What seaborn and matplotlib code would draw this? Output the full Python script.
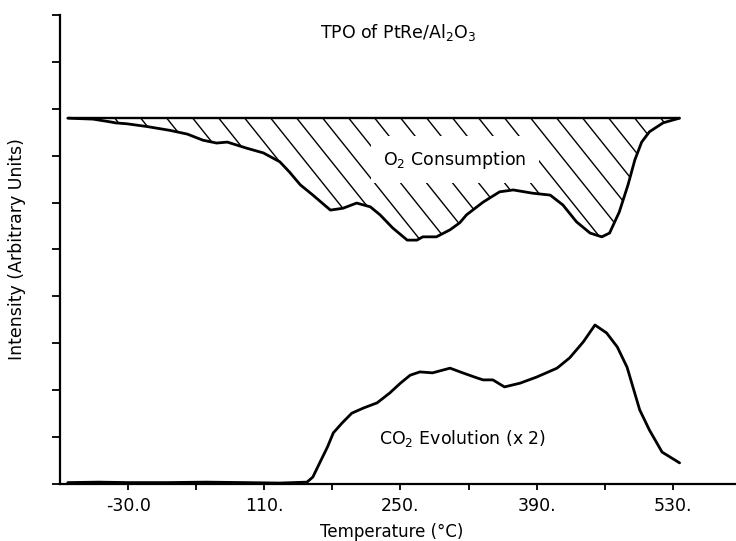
import numpy as np
import pandas as pd
import matplotlib
matplotlib.use("Agg")
import matplotlib.pyplot as plt
import seaborn as sns
from matplotlib.ticker import FixedLocator, FixedFormatter

# ---------------- data ----------------
o2_temp = [-92, -66, -48, -43, -31, -10, 13, 31, 47, 61, 72, 92, 109, 126, 136,
           147, 160, 178, 191, 205, 219, 229, 242, 257, 267, 273, 287, 301, 311,
           318, 335, 352, 366, 386, 404, 417, 431, 445, 457, 465, 475, 484, 491,
           498, 506, 520, 530, 537]
o2_signal = [7.80, 7.78, 7.72, 7.70, 7.68, 7.62, 7.54, 7.46, 7.33, 7.27, 7.29,
             7.16, 7.06, 6.87, 6.65, 6.38, 6.16, 5.84, 5.88, 5.99, 5.91, 5.74,
             5.46, 5.20, 5.20, 5.27, 5.27, 5.42, 5.57, 5.74, 6.01, 6.23, 6.27,
             6.20, 6.16, 5.95, 5.59, 5.35, 5.27, 5.35, 5.80, 6.38, 6.91, 7.29,
             7.51, 7.70, 7.76, 7.80]
o2_baseline = 7.80

co2_temp = [-92, -60, -30, 10, 50, 90, 126, 154, 160, 167, 175, 181, 190, 200,
            212, 226, 239, 250, 260, 270, 283, 301, 314, 329, 335, 345, 357,
            373, 390, 411, 424, 438, 450, 462, 473, 483, 489, 496, 506, 519, 537]
co2_signal = [0.03, 0.04, 0.03, 0.03, 0.04, 0.03, 0.02, 0.04, 0.15, 0.45, 0.79,
              1.09, 1.30, 1.51, 1.62, 1.73, 1.94, 2.15, 2.32, 2.39, 2.37, 2.47,
              2.37, 2.26, 2.22, 2.22, 2.07, 2.15, 2.28, 2.47, 2.69, 3.03, 3.39,
              3.22, 2.92, 2.49, 2.07, 1.58, 1.15, 0.68, 0.45]

x_major = [-30, 110, 250, 390, 530]
x_labels = ["-30.0", "110.", "250.", "390.", "530."]
x_minor = [40, 180, 320, 460]
y_ticks = list(range(0, 11))

title = r"TPO of PtRe/Al$_2$O$_3$"
o2_label = r"O$_2$ Consumption"
co2_label = r"CO$_2$ Evolution (x 2)"

# ---------------- style ----------------
sns.set_theme(style="ticks")
plt.rcParams["font.family"] = ["DejaVu Sans"]
plt.rcParams["mathtext.fontset"] = "dejavusans"
plt.rcParams["text.color"] = "black"
plt.rcParams["axes.labelcolor"] = "black"
plt.rcParams["xtick.color"] = "black"
plt.rcParams["ytick.color"] = "black"
FS = 12.5

fig = plt.figure(figsize=(7.36, 5.41), dpi=100)
ax = fig.add_axes([60 / 736, 57 / 541, 676 / 736, 469 / 541])
ax.set_xlim(-100, 595)
ax.set_ylim(0, 10)

o2 = pd.DataFrame({"Temperature": o2_temp, "Intensity": o2_signal})
co2 = pd.DataFrame({"Temperature": co2_temp, "Intensity": co2_signal})

sns.lineplot(data=o2, x="Temperature", y="Intensity", ax=ax, color="black",
             lw=2.0, estimator=None, sort=False, zorder=4,
             solid_joinstyle="round", solid_capstyle="round")
sns.lineplot(data=co2, x="Temperature", y="Intensity", ax=ax, color="black",
             lw=2.0, estimator=None, sort=False, zorder=4,
             solid_joinstyle="round", solid_capstyle="round")
ax.hlines(o2_baseline, o2_temp[0], o2_temp[-1], color="black", lw=1.7, zorder=4)

# hatched consumption area (lines clipped to the area between baseline and curve)
poly = ax.fill_between(o2_temp, o2_signal, o2_baseline, facecolor="none",
                       edgecolor="none")
clip = poly.get_paths()[0]
trans = ax.transData
bx0, by = trans.transform((o2_temp[0], o2_baseline))
bx1, _ = trans.transform((o2_temp[-1], o2_baseline))
spacing, slope, L = 26.0, 1.25, 260.0
for x0 in np.arange(bx0 + 47, bx1, spacing):
    seg = np.array([[x0, by], [x0 + L, by - slope * L]])
    d = trans.inverted().transform(seg)
    ln, = ax.plot(d[:, 0], d[:, 1], color="black", lw=1.0, zorder=2)
    ln.set_clip_path(clip, trans)

ax.text(306, 6.91, o2_label, ha="center", va="center", fontsize=FS, zorder=5,
        color="black", bbox=dict(facecolor="white", edgecolor="none", pad=9))
ax.text(314, 0.98, co2_label, ha="center", va="center", fontsize=FS, zorder=5,
        color="black")
ax.text(0.5, 0.962, title, transform=ax.transAxes, ha="center", va="center",
        fontsize=FS, color="black")

# axes
ax.set_xlim(-100, 595)
ax.set_ylim(0, 10)
sns.despine(ax=ax, top=True, right=True)
for s in ["left", "bottom"]:
    ax.spines[s].set_linewidth(1.6)
    ax.spines[s].set_color("black")

ax.xaxis.set_major_locator(FixedLocator(x_major))
ax.xaxis.set_major_formatter(FixedFormatter(x_labels))
ax.xaxis.set_minor_locator(FixedLocator(x_minor))
ax.set_yticks(y_ticks)
ax.tick_params(axis="x", which="both", direction="out", length=4.5, width=1.3,
               color="black", pad=5, labelsize=FS, labelcolor="black")
ax.tick_params(axis="y", which="both", direction="out", length=6, width=1.3,
               color="black", labelleft=False)

ax.set_xlabel("Temperature (°C)", fontsize=12, color="black")
ax.set_ylabel("Intensity (Arbitrary Units)", fontsize=FS, color="black")
ax.xaxis.set_label_coords(0.491, -0.083)
ax.yaxis.set_label_coords(-0.05, 0.5)
ax.grid(False)

fig.savefig("out.png", dpi=100)
